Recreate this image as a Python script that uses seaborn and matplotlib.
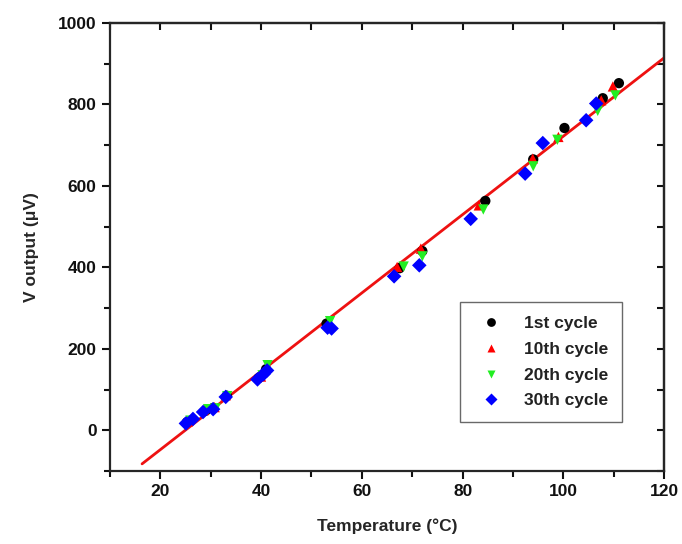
import pandas as pd
import seaborn as sns
from matplotlib import pyplot as plt
from matplotlib.ticker import MultipleLocator

# per cycle
t_1st = [25.3, 29.0, 30.5, 33.2, 39.5, 41.0, 53.0, 67.5, 72.0, 84.5, 94.0, 100.2, 107.8, 111.0]
v_1st = [20, 48, 55, 85, 128, 150, 262, 398, 440, 563, 665, 742, 815, 852]

t_10th = [25.5, 28.7, 30.8, 33.0, 40.0, 41.2, 53.3, 67.0, 71.7, 83.2, 93.9, 99.0, 107.5, 109.8]
v_10th = [22, 50, 57, 86, 132, 155, 260, 401, 446, 552, 667, 720, 810, 844]

t_20th = [26.0, 29.5, 31.0, 33.3, 40.3, 41.3, 53.7, 68.3, 72.0, 84.1, 94.0, 98.8, 106.8, 110.3]
v_20th = [24, 52, 54, 84, 135, 160, 268, 402, 427, 542, 648, 713, 784, 822]

t_30th = [25.1, 26.5, 28.5, 30.5, 33.0, 39.3, 40.5, 41.2, 53.2, 54.0, 66.4, 71.4, 81.6, 92.4, 95.9, 104.5, 106.5]
v_30th = [17, 28, 45, 52, 82, 125, 138, 147, 252, 250, 378, 405, 519, 630, 705, 761, 802]

cycles = ["1st cycle", "10th cycle", "20th cycle", "30th cycle"]

# linear fit drawn in red
fit_slope = 9.62
fit_intercept = -240.0
fit_range = [16.4, 120.0]

df = pd.concat([
    pd.DataFrame({"T": t, "V": v, "cycle": c})
    for t, v, c in zip([t_1st, t_10th, t_20th, t_30th],
                       [v_1st, v_10th, v_20th, v_30th], cycles)
])
fit = pd.DataFrame({"T": fit_range})
fit["V"] = fit_slope * fit["T"] + fit_intercept

sns.set_style("ticks")
plt.rcParams['font.family'] = ['Liberation Sans', 'DejaVu Sans']
plt.rcParams['font.weight'] = 'bold'
plt.rcParams['axes.labelweight'] = 'bold'
plt.rcParams['text.color'] = '#222222'
plt.rcParams['xtick.color'] = '#111111'
plt.rcParams['ytick.color'] = '#111111'

fig = plt.figure(figsize=(6.82, 5.44), dpi=100)
ax = fig.add_axes([0.161, 0.134, 0.813, 0.824])

palette = {"1st cycle": "black", "10th cycle": "#ff0000",
           "20th cycle": "#22ee22", "30th cycle": "#0000ff"}
markers = {"1st cycle": "o", "10th cycle": "^",
           "20th cycle": "v", "30th cycle": "D"}

sns.lineplot(data=fit, x="T", y="V", color="#ee1111", lw=2, ax=ax, zorder=1)
sns.scatterplot(data=df, x="T", y="V", hue="cycle", style="cycle",
                palette=palette, markers=markers, s=55, edgecolor="none",
                ax=ax, zorder=2)

ax.set_xlim(10, 120)
ax.set_ylim(-100, 1000)
ax.xaxis.set_major_locator(MultipleLocator(20))
ax.xaxis.set_minor_locator(MultipleLocator(10))
ax.yaxis.set_major_locator(MultipleLocator(200))
ax.yaxis.set_minor_locator(MultipleLocator(100))
ax.tick_params(which='major', direction='out', length=6, width=1.5, labelsize=12.5)
ax.tick_params(which='minor', direction='out', length=4, width=1.5)

for s in ax.spines.values():
    s.set_visible(True)
    s.set_linewidth(1.6)

top = ax.secondary_xaxis('top')
top.xaxis.set_major_locator(MultipleLocator(10))
top.tick_params(direction='in', length=5, width=1.5, labeltop=False)
top.spines['top'].set_linewidth(1.6)
right = ax.secondary_yaxis('right')
right.yaxis.set_major_locator(MultipleLocator(100))
right.tick_params(direction='in', length=5, width=1.5, labelright=False)
right.spines['right'].set_linewidth(1.6)

ax.set_xlabel("Temperature (°C)", fontsize=12.5, labelpad=14)
ax.set_ylabel("V output (μV)", fontsize=12.5, labelpad=14)

leg = ax.legend(loc='lower right', bbox_to_anchor=(0.94, 0.09), fancybox=False,
                frameon=True, edgecolor='#444444', fontsize=12.5,
                handletextpad=0.9, borderpad=0.8, labelspacing=0.6,
                markerscale=0.85)
leg.get_frame().set_linewidth(1.0)

plt.savefig('out.png', dpi=100)
